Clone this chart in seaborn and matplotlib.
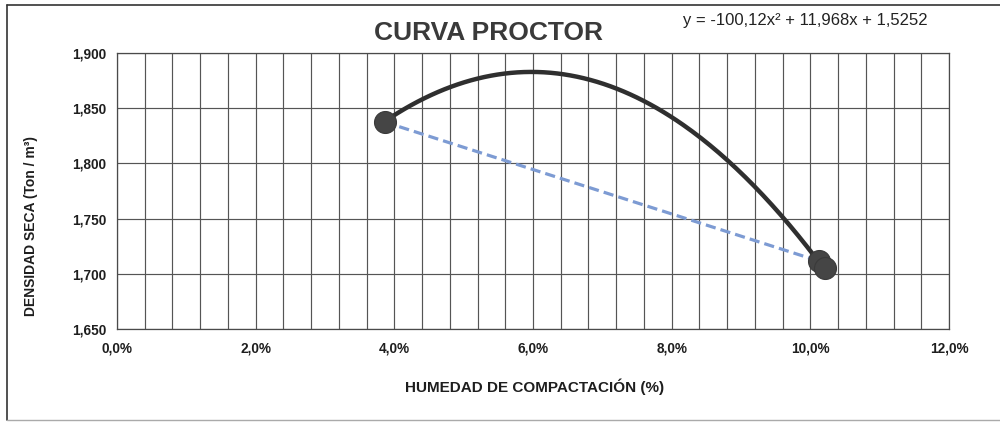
import numpy as np
import pandas as pd
import seaborn as sns
import matplotlib
matplotlib.use("Agg")
import matplotlib.pyplot as plt
from matplotlib.ticker import FuncFormatter, MultipleLocator
from matplotlib.lines import Line2D

# ---- data ----
humedad = [0.0386, 0.1012, 0.1021]          # fraction (shown as %)
densidad = [1.8375, 1.7116, 1.7053]          # Ton / m3
# trendline coefficients shown on the chart: y = -100,12x² + 11,968x + 1,5252
trend_coef = [-100.12, 11.968, 1.5252]
title_text = "CURVA PROCTOR"
eq_text = "y = -100,12x² + 11,968x + 1,5252"
xlabel_text = "HUMEDAD DE COMPACTACIÓN (%)"
ylabel_text = "DENSIDAD SECA (Ton / m³)"

sns.set_theme(style="white")
plt.rcParams['font.family'] = ['Liberation Sans', 'DejaVu Sans']

fig = plt.figure(figsize=(10, 4.24), dpi=100)
ax = fig.add_axes([0.117, 0.224, 0.832, 0.651])

df = pd.DataFrame({"x": humedad, "y": densidad})
xs = np.linspace(min(humedad), max(humedad), 200)
trend = pd.DataFrame({"x": xs, "y": np.polyval(trend_coef, xs)})

sns.lineplot(data=df, x="x", y="y", ax=ax, color="#7d9bd3", lw=2.3,
             linestyle=(0, (3.2, 1.6)), zorder=3, sort=False)
sns.lineplot(data=trend, x="x", y="y", ax=ax, color="#2f2f2f", lw=3.2,
             zorder=4, sort=False)
sns.scatterplot(data=df, x="x", y="y", ax=ax, s=250, color="#454545",
                edgecolor="#3a3a3a", linewidth=0.8, zorder=5)

ax.set_xlim(0, 0.12)
ax.set_ylim(1.65, 1.90)
ax.xaxis.set_major_locator(MultipleLocator(0.02))
ax.xaxis.set_minor_locator(MultipleLocator(0.004))
ax.yaxis.set_major_locator(MultipleLocator(0.05))
ax.xaxis.set_major_formatter(FuncFormatter(lambda v, p: f"{v*100:.1f}%".replace(".", ",")))
ax.yaxis.set_major_formatter(FuncFormatter(lambda v, p: f"{v:.3f}".replace(".", ",")))
ax.grid(True, which="both", axis="x", color="#555555", lw=0.85)
ax.grid(True, which="major", axis="y", color="#555555", lw=0.85)
for s in ax.spines.values():
    s.set_color("#4a4a4a")
    s.set_linewidth(0.9)
ax.tick_params(axis="both", which="both", length=0, colors="#1e1e1e")
ax.tick_params(axis="x", pad=9)
ax.tick_params(axis="y", pad=8)
for lab in ax.get_xticklabels() + ax.get_yticklabels():
    lab.set_fontweight("bold")
    lab.set_fontsize(9.8)
ax.set_xlabel("")
ax.set_ylabel("")

narrow = ['Liberation Sans Narrow', 'Liberation Sans', 'DejaVu Sans']
fig.text(0.535, 1 - 387/424, xlabel_text, ha="center", va="center",
         fontsize=11, fontweight="bold", color="#1e1e1e", family=narrow)
fig.text(0.031, 1 - 226/424, ylabel_text, ha="center", va="center",
         rotation=90, fontsize=10, fontweight="bold", color="#1e1e1e", family=narrow)
fig.text(0.488, 1 - 33/424, title_text, ha="center", va="center",
         fontsize=19, fontweight="bold", color="#3a3a3a")
fig.text(0.683, 1 - 20/424, eq_text, ha="left", va="center",
         fontsize=12, color="#222222")

# outer chart frame
fig.add_artist(Line2D([0.007, 1.0], [1 - 5/424, 1 - 5/424], color="#333333", lw=1.2,
                      transform=fig.transFigure))
fig.add_artist(Line2D([0.007, 0.007], [1 - 5/424, 1 - 420/424], color="#333333", lw=1.2,
                      transform=fig.transFigure))
fig.add_artist(Line2D([0.007, 1.0], [1 - 420/424, 1 - 420/424], color="#aaaaaa", lw=1.0,
                      transform=fig.transFigure))

fig.savefig("out.png", dpi=100)
